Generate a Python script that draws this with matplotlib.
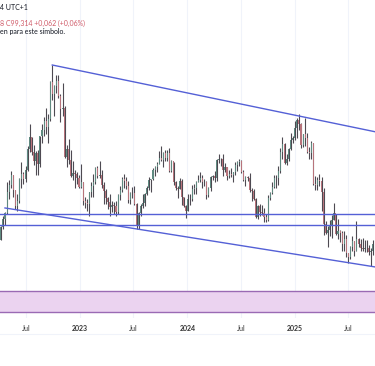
import matplotlib
matplotlib.use("Agg")
import matplotlib.pyplot as plt
import numpy as np
import pandas as pd

# weekly candles, one per week (dated on the wednesday)
close = [
    # 2022
    98.6, 99.8, 100.5, 101.1, 103.0, 103.7, 104.6, 103.2, 101.7, 102.2,
    104.2, 104.7, 104.2, 105.1, 107.0, 108.1, 106.7, 105.9, 106.6, 105.6,
    108.2, 108.8, 109.6, 109.0, 109.8, 113.2, 112.1, 112.8, 113.3, 111.9,
    110.7, 110.8, 106.3, 107.0, 106.0, 104.5, 104.8, 104.7, 104.3, 103.5,
    # 2023
    103.9, 102.2, 102.0, 101.9, 103.0, 103.6, 103.9, 105.2, 104.5, 104.6,
    103.7, 103.1, 102.5, 102.1, 101.6, 101.8, 101.7, 101.2, 102.7, 103.2,
    104.2, 104.0, 103.6, 102.3, 102.9, 102.9, 101.9, 99.9, 101.1, 101.7,
    102.0, 102.8, 103.4, 104.1, 104.2, 105.1, 105.3, 105.6, 106.2, 106.0,
    106.6, 106.2, 106.6, 105.0, 105.9, 103.9, 103.4, 103.3, 104.0, 102.6,
    101.7, 101.3,
    # 2024
    102.4, 102.4, 103.3, 103.4, 103.9, 104.1, 104.3, 103.9, 103.9, 102.7,
    103.4, 104.4, 104.5, 104.3, 106.0, 106.1, 106.1, 105.1, 105.3, 104.5,
    104.7, 104.6, 104.9, 105.5, 105.8, 105.9, 104.9, 104.1, 104.4, 104.3,
    103.2, 103.1, 102.4, 100.7, 101.7, 101.2, 101.1, 100.7, 100.4, 102.5,
    102.9, 103.5, 104.3, 104.3, 105.0, 106.7, 107.5, 105.7, 106.1, 107.0,
    107.8, 108.0,
    # 2025
    108.9, 109.7, 109.3, 107.4, 108.4, 108.0, 106.7, 106.6, 107.6, 103.8,
    103.7, 104.1, 104.0, 103.0, 100.1, 99.2, 99.5, 100.0, 100.4, 101.1,
    99.1, 99.4, 99.2, 98.2, 98.7, 97.4, 97.0, 97.9, 98.5, 97.6,
    98.7, 98.2, 97.8, 97.7, 97.8, 97.8, 97.5, 97.6, 98.2,
]
high = [
    99.0, 99.9, 100.8, 101.2, 103.9, 104.1, 105.0, 104.6, 103.2, 102.8,
    104.3, 105.8, 104.9, 105.4, 107.3, 109.3, 108.1, 107.4, 106.8, 106.9,
    108.2, 109.3, 110.0, 110.8, 110.2, 113.3, 114.8, 112.9, 113.9, 113.9,
    112.1, 113.1, 111.0, 107.4, 107.9, 106.9, 105.9, 105.1, 104.9, 104.6,
    105.6, 103.9, 102.6, 102.4, 103.0, 103.9, 104.7, 105.3, 105.4, 105.9,
    105.1, 103.9, 103.3, 102.6, 102.8, 102.2, 102.1, 102.2, 102.8, 103.6,
    104.4, 104.7, 104.4, 104.0, 103.0, 103.5, 103.6, 102.0, 101.2, 101.9,
    102.8, 102.9, 103.6, 104.4, 104.2, 105.2, 105.4, 105.8, 106.8, 107.3,
    106.7, 106.9, 106.9, 107.1, 106.0, 105.8, 104.0, 103.6, 104.3, 104.2,
    102.6, 101.8,
    102.8, 102.8, 103.7, 103.8, 104.0, 104.6, 104.9, 104.6, 104.2, 104.0,
    103.5, 104.5, 104.6, 105.0, 106.1, 106.5, 106.2, 106.5, 105.7, 105.3,
    105.1, 105.2, 104.9, 105.8, 105.9, 106.1, 106.0, 105.1, 104.5, 104.5,
    104.8, 103.4, 103.3, 102.5, 101.8, 101.9, 101.8, 101.5, 101.0, 102.7,
    103.0, 103.9, 104.6, 104.6, 105.4, 107.1, 108.1, 107.6, 106.5, 107.1,
    108.5, 108.2,
    109.6, 109.9, 110.2, 109.4, 108.4, 109.9, 108.5, 107.2, 107.7, 107.6,
    104.5, 104.4, 104.7, 104.4, 103.4, 100.3, 99.9, 100.4, 100.9, 102.0,
    101.0, 100.5, 99.5, 99.4, 99.4, 99.0, 97.4, 98.0, 98.9, 98.5,
    100.3, 98.8, 98.7, 98.8, 98.6, 98.6, 98.1, 97.8, 98.6,
]
low = [
    97.7, 98.6, 99.6, 100.0, 101.0, 102.4, 103.4, 102.6, 101.4, 101.3,
    102.0, 103.4, 103.8, 103.9, 105.0, 106.7, 106.4, 105.5, 104.6, 104.6,
    105.3, 107.6, 108.2, 108.4, 107.6, 109.6, 111.5, 110.1, 112.2, 111.7,
    109.5, 110.1, 106.2, 105.3, 105.6, 104.4, 104.1, 103.4, 103.8, 103.4,
    103.4, 101.8, 101.5, 101.3, 100.8, 102.6, 102.6, 103.8, 104.3, 104.3,
    103.4, 101.9, 101.9, 101.4, 100.8, 101.2, 101.0, 100.8, 101.0, 102.3,
    103.0, 103.4, 103.3, 102.0, 101.9, 102.5, 101.8, 99.6, 99.6, 100.8,
    101.5, 101.7, 102.7, 103.2, 103.0, 104.1, 104.5, 104.9, 105.6, 105.9,
    105.3, 105.9, 105.9, 104.9, 104.9, 103.7, 103.2, 102.5, 103.3, 101.8,
    101.6, 100.6,
    101.3, 101.8, 102.2, 102.8, 102.8, 103.9, 103.9, 103.4, 103.6, 102.4,
    102.6, 103.1, 104.1, 103.9, 104.0, 105.7, 105.4, 104.5, 104.9, 104.1,
    104.3, 104.4, 103.9, 104.6, 105.0, 105.4, 104.8, 104.0, 103.6, 104.0,
    103.0, 102.2, 102.3, 100.6, 100.5, 100.8, 100.9, 100.2, 100.2, 100.3,
    102.3, 102.8, 103.4, 103.4, 103.7, 104.8, 106.1, 105.6, 105.5, 105.9,
    106.9, 107.6,
    107.8, 108.0, 108.8, 107.1, 107.2, 107.3, 106.6, 106.1, 106.1, 103.7,
    103.2, 103.2, 103.6, 101.3, 99.0, 99.1, 97.9, 98.9, 98.8, 100.4,
    99.0, 98.7, 98.4, 97.6, 97.6, 97.0, 96.4, 96.8, 97.6, 97.1,
    97.6, 97.9, 97.6, 97.6, 97.5, 97.5, 97.2, 96.2, 97.2,
]
first_open = 98.2

# drawings
upper_dates = ["2022-09-28", "2025-10-01"]
upper_vals = [114.78, 108.6]
lower_dates = ["2022-04-20", "2025-10-01"]
lower_vals = [101.54, 96.08]
support_levels = [100.98, 99.94]
band_low, band_high = 91.94, 93.85

tick_dates = ["2022-07-01", "2023-01-01", "2023-07-01", "2024-01-01",
              "2024-07-01", "2025-01-01", "2025-07-01"]
tick_labels = ["Jul", "2023", "Jul", "2024", "Jul", "2025", "Jul"]

weeks = pd.date_range("2022-03-30", periods=len(close), freq="W-WED")
c = np.array(close)
o = np.r_[first_open, c[:-1]]
h = np.array(high)
l = np.array(low)
up = c >= o

fig = plt.figure(figsize=(3.75, 3.66), dpi=100)
ax = fig.add_axes([0, 48 / 366, 1, 318 / 366])

for d in tick_dates:
    ax.axvline(pd.Timestamp(d), color="#f0f3fa", lw=0.8, zorder=0)

ax.axhspan(band_low, band_high, facecolor="#ebd3f0", edgecolor="none", zorder=1)
ax.axhline(band_low, color="#9a6ab4", lw=1.0, zorder=2)
ax.axhline(band_high, color="#9a6ab4", lw=1.0, zorder=2)

ax.vlines(weeks, l, h, color="#4e4a52", lw=0.8, zorder=3)
ax.bar(weeks[up], (c - o)[up], bottom=o[up], width=3.5, color="#5f8a80", zorder=4)
ax.bar(weeks[~up], (c - o)[~up], bottom=o[~up], width=3.5, color="#b8747c", zorder=4)

blue = "#5460d6"
ax.plot(pd.to_datetime(upper_dates), upper_vals, color=blue, lw=1.0, zorder=5)
ax.plot(pd.to_datetime(lower_dates), lower_vals, color=blue, lw=1.0, zorder=5)
for lv in support_levels:
    ax.axhline(lv, color=blue, lw=1.0, zorder=5)

ax.set_xlim(pd.Timestamp("2022-04-03"), pd.Timestamp("2025-10-01"))
ax.set_ylim(91.35, 120.8)
ax.set_yticks([])
ax.set_xticks(pd.to_datetime(tick_dates))
ax.set_xticklabels(tick_labels, fontsize=5, color="#333333", family="Lato")
for t in ax.get_xticklabels():
    if t.get_text() != "Jul":
        t.set_fontweight("bold")
ax.tick_params(axis="x", length=0, pad=5)
for s in ax.spines.values():
    s.set_visible(False)

fig.add_artist(plt.Line2D([0, 1], [1 - 334 / 366] * 2, color="#f0f3fa", lw=0.8))

fig.text(0, 1 - 8 / 366, "4 UTC+1", fontsize=5, color="#131722", va="center", family="Lato")
fig.text(0, 1 - 23.5 / 366, "8 C99,314 +0,062 (+0,06%)", fontsize=5,
         color="#d05a68", va="center", family="Lato")
fig.text(0, 1 - 31.5 / 366, "en para este símbolo.", fontsize=5, color="#131722",
         va="center", family="Lato")

fig.savefig("out.png", dpi=100)
